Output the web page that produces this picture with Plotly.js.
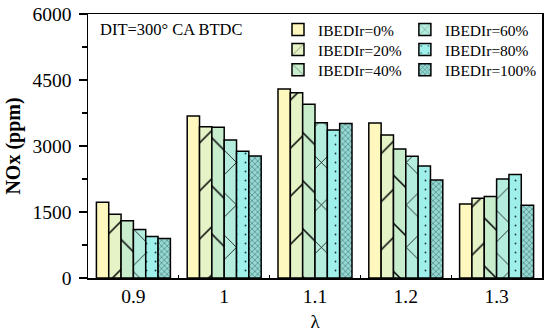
<!DOCTYPE html>
<html><head><meta charset="utf-8">
<script src="https://cdn.plot.ly/plotly-3.0.1.min.js"></script>
<style>html,body{margin:0;padding:0;background:#fff}#chart{width:550px;height:333px}</style>
</head><body><div id="chart"></div>
<script>
const lambdas = ['0.9', '1', '1.1', '1.2', '1.3'];
const seriesNames = ['IBEDIr=0%', 'IBEDIr=20%', 'IBEDIr=40%', 'IBEDIr=60%', 'IBEDIr=80%', 'IBEDIr=100%'];
const ibedir0   = [1720, 3680, 4295, 3525, 1680];
const ibedir20  = [1450, 3440, 4210, 3250, 1815];
const ibedir40  = [1300, 3425, 3950, 2930, 1850];
const ibedir60  = [1100, 3135, 3530, 2765, 2250];
const ibedir80  = [945, 2880, 3365, 2545, 2350];
const ibedir100 = [895, 2775, 3510, 2225, 1655];
const yTickVals = [0, 1500, 3000, 4500, 6000];

const values = [ibedir0, ibedir20, ibedir40, ibedir60, ibedir80, ibedir100];
const colors = ['#FFF8BE', '#E5F3C6', '#C7EDCD', '#B4EDDE', '#9FEFEB', '#96D8D3'];
const patterns = [
  {shape: ''},
  {shape: '/', size: 34, solidity: 0.045, fgcolor: '#000'},
  {shape: '\\', size: 34, solidity: 0.045, fgcolor: '#000'},
  {shape: 'x', size: 30, solidity: 0.05, fgcolor: '#000'},
  {shape: '.', size: 9, solidity: 0.03, fgcolor: '#1a3a3a'},
  {shape: 'x', size: 4, solidity: 0.22, fgcolor: '#2a5c58'}
];
const FONT = 'Liberation Serif, Times New Roman, serif';
const legendIds = ['legend', 'legend2', 'legend3', 'legend4', 'legend5', 'legend6'];
const legendX = [0.4185, 0.4185, 0.4185, 0.698, 0.698, 0.698];
const legendY = [1.004, 0.928, 0.852, 1.004, 0.928, 0.852];

const traces = values.map((v, i) => {
  const pat = Object.assign({fillmode: 'replace', bgcolor: colors[i]}, patterns[i]);
  return {
    type: 'bar', x: lambdas, y: v, name: seriesNames[i],
    legend: legendIds[i],
    marker: {color: colors[i], line: {color: '#000', width: 1.5}, pattern: pat},
    hoverinfo: 'x+y+name'
  };
});

const layout = {
  width: 550, height: 333,
  margin: {l: 88, r: 8, t: 14, b: 55},
  paper_bgcolor: '#fff', plot_bgcolor: '#fff',
  barmode: 'group', bargap: 0.185, bargroupgap: 0,
  font: {family: FONT, color: '#000'},
  showlegend: true,
  xaxis: {
    type: 'category', range: [-0.5, 4.5],
    showline: true, linecolor: '#000', linewidth: 1.5, mirror: true,
    ticks: 'inside', tickson: 'boundaries', ticklen: 3, tickcolor: '#000', tickwidth: 1.2,
    tickfont: {family: FONT, size: 19.5, color: '#000'},
    title: {text: 'λ', font: {family: FONT, size: 19, color: '#000'}, standoff: 9},
    showgrid: false, zeroline: false
  },
  yaxis: {
    range: [0, 6000], tickvals: yTickVals,
    showline: true, linecolor: '#000', linewidth: 1.5, mirror: true,
    ticks: 'outside', ticklen: 8, tickcolor: '#000', tickwidth: 1.5,
    ticklabelstandoff: 3,
    minor: {dtick: 750, ticks: 'outside', ticklen: 5, tickcolor: '#000', tickwidth: 1.5, showgrid: false},
    tickfont: {family: FONT, size: 19.5, color: '#000'},
    title: {text: '<b>NOx (ppm)</b>', font: {family: FONT, size: 20, color: '#000'}, standoff: 6},
    showgrid: false, zeroline: false
  },
  annotations: [{
    text: 'DIT=300° CA BTDC', xref: 'paper', yref: 'paper', x: 0.022, y: 0.94,
    xanchor: 'left', yanchor: 'middle', showarrow: false,
    font: {family: FONT, size: 16.5, color: '#000'}
  }]
};
legendIds.forEach((id, i) => {
  layout[id] = {
    x: legendX[i], y: legendY[i], xanchor: 'left', yanchor: 'top',
    font: {family: FONT, size: 15.5, color: '#000'},
    bgcolor: 'rgba(0,0,0,0)', borderwidth: 0, itemwidth: 30
  };
});

Plotly.newPlot('chart', traces, layout, {displayModeBar: false, staticPlot: true});
</script></body></html>
